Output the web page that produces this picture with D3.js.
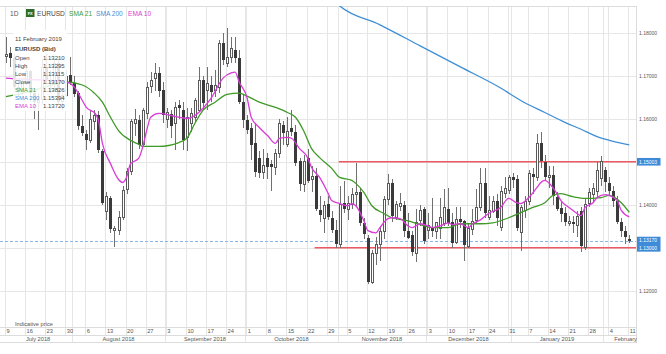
<!DOCTYPE html>
<html>
<head>
<meta charset="utf-8">
<script src="https://cdnjs.cloudflare.com/ajax/libs/d3/7.8.5/d3.min.js"></script>
<style>
  body { margin: 0; background: #fff; }
  svg { display: block; font-family: "Liberation Sans", Arial, sans-serif; }
</style>
</head>
<body>
<svg id="chart" width="666" height="354"></svg>
<script>
// Daily EURUSD candles, 9 Jul 2018 .. 11 Feb 2019 (one value per trading day)
var opens = [1.1745,1.1753,1.1742,1.1675,1.1665,1.1685,1.1712,1.1660,1.1640,1.1645,
  1.1720,1.1690,1.1685,1.1730,1.1640,1.1655,1.1702,1.1683,1.1660,1.1583,
  1.1565,1.1552,1.1595,1.1608,1.1525,1.1385,1.1415,1.1340,1.1342,1.1372,
  1.1435,1.1478,1.1590,1.1598,1.1540,1.1615,1.1675,1.1695,1.1707,1.1668,
  1.1598,1.1612,1.1590,1.1632,1.1620,1.1557,1.1590,1.1604,1.1620,1.1690,
  1.1667,1.1679,1.1667,1.1674,1.1777,1.1730,1.1744,1.1760,1.1742,1.1639,
  1.1597,1.1578,1.1543,1.1508,1.1475,1.1508,1.1495,1.1487,1.1520,1.1585,
  1.1543,1.1580,1.1569,1.1503,1.1450,1.1510,1.1461,1.1468,1.1387,1.1370,
  1.1403,1.1370,1.1342,1.1310,1.1405,1.1390,1.1403,1.1425,1.1430,1.1358,
  1.1323,1.1220,1.1288,1.1309,1.1340,1.1414,1.1452,1.1372,1.1398,1.1400,
  1.1340,1.1330,1.1288,1.1363,1.1390,1.1340,1.1345,1.1338,1.1347,1.1358,
  1.1390,1.1360,1.1315,1.1368,1.1362,1.1305,1.1345,1.1363,1.1394,1.1450,
  1.1370,1.1387,1.1410,1.1350,1.1428,1.1433,1.1464,1.1460,1.1335,1.1390,
  1.1410,1.1472,1.1465,1.1543,1.1500,1.1466,1.1470,1.1418,1.1393,1.1380,
  1.1358,1.1360,1.1352,1.1385,1.1303,1.1405,1.1425,1.1430,1.1464,1.1480,
  1.1452,1.1433,1.1410,1.1360,1.1340,1.13210];
var highs = [1.1790,1.1768,1.1750,1.1690,1.1690,1.1720,1.1715,1.1665,1.1660,1.1740,
  1.1750,1.1715,1.1740,1.1745,1.1660,1.1715,1.1744,1.1700,1.1665,1.1610,
  1.1575,1.1620,1.1620,1.1618,1.1530,1.1430,1.1420,1.1350,1.1385,1.1445,
  1.1485,1.1600,1.1623,1.1610,1.1625,1.1685,1.1710,1.1730,1.1720,1.1685,
  1.1625,1.1620,1.1640,1.1645,1.1640,1.1625,1.1625,1.1648,1.1720,1.1700,
  1.1721,1.1700,1.1714,1.1784,1.1800,1.1812,1.1790,1.1790,1.1760,1.1655,
  1.1610,1.1590,1.1590,1.1525,1.1530,1.1520,1.1505,1.1530,1.1600,1.1595,
  1.1604,1.1620,1.1585,1.1510,1.1515,1.1530,1.1490,1.1485,1.1420,1.1410,
  1.1420,1.1385,1.1365,1.1445,1.1455,1.1420,1.1440,1.1497,1.1440,1.1370,
  1.1330,1.1295,1.1325,1.1350,1.1420,1.1473,1.1460,1.1410,1.1428,1.1410,
  1.1380,1.1340,1.1390,1.1400,1.1395,1.1380,1.1415,1.1360,1.1417,1.1438,
  1.1440,1.1380,1.1395,1.1395,1.1365,1.1355,1.1390,1.1438,1.1486,1.1485,
  1.1420,1.1420,1.1425,1.1445,1.1465,1.1470,1.1475,1.1470,1.1400,1.1420,
  1.1480,1.1485,1.1566,1.1570,1.1515,1.1490,1.1490,1.1430,1.1410,1.1395,
  1.1375,1.1375,1.1385,1.1395,1.1417,1.1440,1.1450,1.1500,1.1514,1.1488,
  1.1465,1.1445,1.1420,1.1370,1.1350,1.13295];
var lows = [1.1730,1.1720,1.1670,1.1650,1.1655,1.1680,1.1640,1.1600,1.1575,1.1635,
  1.1680,1.1660,1.1665,1.1635,1.1620,1.1650,1.1679,1.1650,1.1575,1.1560,
  1.1527,1.1545,1.1575,1.1520,1.1400,1.1365,1.1335,1.1301,1.1330,1.1365,
  1.1425,1.1470,1.1560,1.1530,1.1535,1.1600,1.1660,1.1665,1.1650,1.1590,
  1.1580,1.1555,1.1527,1.1600,1.1527,1.1525,1.1570,1.1590,1.1615,1.1620,
  1.1620,1.1640,1.1650,1.1660,1.1725,1.1720,1.1730,1.1730,1.1635,1.1580,
  1.1565,1.1505,1.1465,1.1462,1.1460,1.1460,1.1433,1.1470,1.1510,1.1540,
  1.1535,1.1560,1.1490,1.1432,1.1430,1.1450,1.1430,1.1385,1.1360,1.1335,
  1.1365,1.1335,1.1300,1.1300,1.1380,1.1365,1.1390,1.1395,1.1350,1.1320,
  1.1215,1.1215,1.1260,1.1270,1.1320,1.1400,1.1360,1.1365,1.1385,1.1325,
  1.1320,1.1280,1.1266,1.1350,1.1310,1.1320,1.1325,1.1320,1.1320,1.1350,
  1.1350,1.1300,1.1310,1.1345,1.1269,1.1300,1.1330,1.1355,1.1385,1.1370,
  1.1365,1.1380,1.1350,1.1340,1.1415,1.1425,1.1440,1.1340,1.1293,1.1370,
  1.1400,1.1425,1.1455,1.1485,1.1455,1.1440,1.1400,1.1385,1.1360,1.1350,
  1.1350,1.1335,1.1325,1.1290,1.1295,1.1395,1.1405,1.1415,1.1445,1.1430,
  1.1420,1.1395,1.1355,1.1325,1.1310,1.13115];
var closes = [1.1750,1.1742,1.1675,1.1665,1.1685,1.1712,1.1660,1.1640,1.1645,1.1720,
  1.1690,1.1685,1.1730,1.1640,1.1655,1.1700,1.1683,1.1658,1.1583,1.1567,
  1.1552,1.1600,1.1610,1.1527,1.1405,1.1420,1.1342,1.1345,1.1372,1.1435,
  1.1478,1.1595,1.1600,1.1540,1.1620,1.1675,1.1690,1.1707,1.1665,1.1610,
  1.1615,1.1583,1.1627,1.1625,1.1550,1.1604,1.1613,1.1643,1.1690,1.1636,
  1.1683,1.1662,1.1679,1.1777,1.1737,1.1744,1.1765,1.1742,1.1639,1.1597,
  1.1573,1.1538,1.1475,1.1472,1.1492,1.1487,1.1487,1.1520,1.1590,1.1566,
  1.1573,1.1570,1.1496,1.1450,1.1503,1.1457,1.1468,1.1391,1.1375,1.1400,
  1.1372,1.1342,1.1310,1.1403,1.1390,1.1405,1.1426,1.1430,1.1358,1.1333,
  1.1220,1.1288,1.1309,1.1340,1.1414,1.1452,1.1375,1.1403,1.1405,1.1340,
  1.1323,1.1290,1.1360,1.1387,1.1316,1.1352,1.1337,1.1360,1.1372,1.1395,
  1.1358,1.1312,1.1368,1.1362,1.1305,1.1347,1.1363,1.1394,1.1450,1.1380,
  1.1387,1.1410,1.1370,1.1433,1.1440,1.1464,1.1456,1.1345,1.1394,1.1410,
  1.1475,1.1465,1.1543,1.1500,1.1466,1.1470,1.1420,1.1390,1.1378,1.1360,
  1.1362,1.1356,1.1374,1.1303,1.1403,1.1430,1.1440,1.1480,1.1503,1.1452,
  1.1433,1.1410,1.1360,1.1340,1.1325,1.13170];

// Indicators, read at a subset of trading days (index into the day list)
var sma21Days = [0,5,10,15,19,22,24,26,28,31,33,34,38,43,45,47,49,52,55,58,
  60,63,67,70,72,74,76,78,81,83,86,87,89,91,94,96,100,103,106,110,
  113,118,121,125,128,131,134,136,138,141,144,148,150,153,155];
var sma21Values = [1.1652,1.1662,1.1675,1.1686,1.1679,1.1660,1.1639,1.1604,1.1573,1.1550,
  1.1541,1.1536,1.1536,1.1545,1.1555,1.1590,1.1620,1.1639,1.1657,1.1660,
  1.1653,1.1639,1.1627,1.1615,1.1604,1.1573,1.1531,1.1510,1.1485,1.1464,
  1.1457,1.1450,1.1429,1.1398,1.1380,1.1370,1.1363,1.1354,1.1347,1.1347,
  1.1356,1.1356,1.1358,1.1370,1.1382,1.1394,1.1405,1.1422,1.1426,1.1419,
  1.1415,1.1417,1.1422,1.1405,1.13826];

var ema10Days = [0,5,10,15,17,19,20,21,22,23,24,26,28,29,30,31,33,34,35,36,
  38,41,43,45,47,49,51,54,56,57,58,60,61,63,65,67,68,70,71,73,
  75,76,78,80,81,83,85,86,87,89,90,92,93,95,96,98,100,101,103,105,
  106,108,110,111,113,115,116,118,120,123,125,127,128,130,132,133,134,136,137,138,
  140,142,143,144,146,147,149,150,152,153,155];
var ema10Values = [1.1695,1.1692,1.1690,1.1686,1.1674,1.1643,1.1627,1.1620,1.1615,1.1597,
  1.1543,1.1496,1.1459,1.1452,1.1464,1.1496,1.1508,1.1534,1.1573,1.1604,
  1.1613,1.1608,1.1604,1.1601,1.1608,1.1625,1.1648,1.1695,1.1707,1.1709,
  1.1686,1.1648,1.1604,1.1580,1.1562,1.1543,1.1555,1.1557,1.1555,1.1531,
  1.1510,1.1487,1.1464,1.1429,1.1410,1.1403,1.1398,1.1403,1.1398,1.1363,
  1.1340,1.1335,1.1347,1.1368,1.1370,1.1368,1.1351,1.1347,1.1356,1.1351,
  1.1347,1.1351,1.1358,1.1354,1.1356,1.1347,1.1356,1.1365,1.1380,1.1394,
  1.1415,1.1405,1.1403,1.1417,1.1440,1.1452,1.1457,1.1440,1.1426,1.1410,
  1.1394,1.1380,1.1375,1.1394,1.1405,1.1417,1.1424,1.1422,1.1410,1.1387,
  1.13720];

var sma200Days = [80,83,93,103,113,123,128,134,139,143,147,151,155];
var sma200Values = [1.1890,1.1863,1.1819,1.1770,1.1721,1.1672,1.1643,1.1615,1.1592,1.1576,1.1559,1.1548,1.15394];

// Horizontal support / resistance lines
var levelValues = [1.15003, 1.13000];
var levelStartDays = [83, 77];

// Axis labels
var priceTicks = [1.12, 1.13, 1.14, 1.15, 1.16, 1.17, 1.18];
var monthLabels = ['July 2018', 'August 2018', 'September 2018', 'October 2018',
  'November 2018', 'December 2018', 'January 2019', 'February'];

// Plot frame
var plot = {left: 0, top: 6, right: 636, bottom: 327};

var days = d3.timeDay.range(new Date(2018, 6, 9), new Date(2019, 1, 12))
  .filter(function(d) { return d.getDay() > 0 && d.getDay() < 6; });
var last = days.length - 1;

var candles = days.map(function(d, i) {
  return {i: i, date: d, o: opens[i], h: highs[i], l: lows[i], c: closes[i]};
});

// Scales
var xScale = d3.scaleLinear().domain([0, last]).range([5.9, 629.3]);
var yScale = d3.scaleLinear().domain([1.12, 1.18]).range([290.8, 33]);

var svg = d3.select('#chart');
var fmt = d3.format('.5f');
var gridColor = '#e6e6e6';
var colSma21 = '#3f9a27', colSma200 = '#3f8fd6', colEma10 = '#d83cd8';

svg.append('rect').attr('width', 666).attr('height', 354).attr('fill', '#fff');

svg.append('defs').append('clipPath').attr('id', 'plotClip')
  .append('rect')
  .attr('x', plot.left).attr('y', plot.top)
  .attr('width', plot.right - plot.left).attr('height', plot.bottom - plot.top);

// Grid
var grid = svg.append('g').attr('shape-rendering', 'crispEdges');

grid.selectAll('.hgrid')
  .data(priceTicks)
  .enter().append('line')
  .attr('x1', plot.left).attr('x2', plot.right)
  .attr('y1', function(d) { return Math.round(yScale(d)) + 0.5; })
  .attr('y2', function(d) { return Math.round(yScale(d)) + 0.5; })
  .attr('stroke', gridColor);

var mondays = candles.filter(function(d) { return d.date.getDay() === 1; });
var monthStarts = candles.filter(function(d, i) {
  return i > 0 && d.date.getMonth() !== days[i - 1].getMonth();
});

grid.selectAll('.vgrid')
  .data(mondays)
  .enter().append('line')
  .attr('x1', function(d) { return Math.round(xScale(d.i) - 1) + 0.5; })
  .attr('x2', function(d) { return Math.round(xScale(d.i) - 1) + 0.5; })
  .attr('y1', plot.top).attr('y2', 335)
  .attr('stroke', gridColor);

grid.selectAll('.mgrid')
  .data(monthStarts)
  .enter().append('line')
  .attr('x1', function(d) { return Math.round(xScale(d.i) - 2) + 0.5; })
  .attr('x2', function(d) { return Math.round(xScale(d.i) - 2) + 0.5; })
  .attr('y1', plot.top).attr('y2', 342)
  .attr('stroke', gridColor);

// Frame lines
[[plot.left, plot.top + 0.5, plot.right, plot.top + 0.5],
 [plot.left, plot.bottom + 0.5, plot.right, plot.bottom + 0.5],
 [plot.left, 335.5, plot.right, 335.5],
 [plot.left, 342.5, plot.right, 342.5],
 [plot.right + 0.5, plot.top, plot.right + 0.5, 342.5]].forEach(function(l) {
  grid.append('line')
    .attr('x1', l[0]).attr('y1', l[1]).attr('x2', l[2]).attr('y2', l[3])
    .attr('stroke', '#dcdcdc');
});

var chart = svg.append('g').attr('clip-path', 'url(#plotClip)');

// Support / resistance levels
chart.selectAll('.level')
  .data(levelValues)
  .enter().append('line')
  .attr('x1', function(d, i) { return xScale(levelStartDays[i]) - 1; })
  .attr('x2', plot.right)
  .attr('y1', function(d) { return yScale(d); })
  .attr('y2', function(d) { return yScale(d); })
  .attr('stroke', '#ea5a62')
  .attr('stroke-width', 1.5);

// Current price dashed line
chart.append('line')
  .attr('x1', plot.left).attr('x2', plot.right)
  .attr('y1', Math.round(yScale(closes[last])) + 0.5)
  .attr('y2', Math.round(yScale(closes[last])) + 0.5)
  .attr('stroke', '#8ab6e6')
  .attr('stroke-dasharray', '3,2')
  .attr('shape-rendering', 'crispEdges');

// Candles
var candleG = chart.append('g').attr('shape-rendering', 'crispEdges');

candleG.selectAll('.wick')
  .data(candles)
  .enter().append('line')
  .attr('x1', function(d) { return Math.round(xScale(d.i)) + 0.5; })
  .attr('x2', function(d) { return Math.round(xScale(d.i)) + 0.5; })
  .attr('y1', function(d) { return yScale(d.h); })
  .attr('y2', function(d) { return yScale(d.l); })
  .attr('stroke', '#707070');

candleG.selectAll('.body')
  .data(candles)
  .enter().append('rect')
  .each(function(d) {
    var top = yScale(Math.max(d.o, d.c)), bot = yScale(Math.min(d.o, d.c));
    var cx = Math.round(xScale(d.i));
    var r = d3.select(this);
    if (d.c >= d.o) {
      r.attr('x', cx - 0.5).attr('width', 2)
        .attr('y', Math.round(top) + 0.5).attr('height', Math.max(1, Math.round(bot - top)))
        .attr('fill', '#fff').attr('stroke', '#5a5a5a');
    } else {
      r.attr('x', cx - 1).attr('width', 3)
        .attr('y', Math.round(top)).attr('height', Math.max(1, Math.round(bot - top)))
        .attr('fill', '#3a3a3a');
    }
  });

// Indicator lines
var line = d3.line().curve(d3.curveMonotoneX)
  .x(function(d) { return xScale(d[0]); })
  .y(function(d) { return yScale(d[1]); });

function pairs(daysArr, vals) {
  return daysArr.map(function(d, i) { return [d, vals[i]]; });
}

[[sma200Days, sma200Values, colSma200],
 [sma21Days, sma21Values, colSma21],
 [ema10Days, ema10Values, colEma10]].forEach(function(s) {
  chart.append('path')
    .attr('d', line(pairs(s[0], s[1])))
    .attr('fill', 'none')
    .attr('stroke', s[2])
    .attr('stroke-width', 1.3);
});

// Info box (semi transparent)
svg.append('rect')
  .attr('x', 13).attr('y', 30).attr('width', 54).attr('height', 81)
  .attr('fill', '#fff').attr('opacity', 0.86);

var info = svg.append('g').attr('font-size', '6px').attr('fill', '#444');
info.append('text').attr('x', 15).attr('y', 41)
  .text(d3.timeFormat('%-d %B %Y')(days[last]));
info.append('text').attr('x', 15).attr('y', 51).attr('font-weight', 'bold')
  .text('EURUSD (Bid)');

var rows = [
  ['Open', candles[last].o, '#444'],
  ['High', candles[last].h, '#444'],
  ['Low', candles[last].l, '#444'],
  ['Close', candles[last].c, '#444'],
  ['SMA 21', sma21Values[sma21Values.length - 1], colSma21],
  ['SMA 200', sma200Values[sma200Values.length - 1], colSma200],
  ['EMA 10', ema10Values[ema10Values.length - 1], colEma10]
];
rows.forEach(function(r, i) {
  info.append('text').attr('x', 15).attr('y', 60 + i * 8).attr('fill', r[2]).text(r[0]);
  info.append('text').attr('x', 43).attr('y', 60 + i * 8).text(fmt(r[1]));
});

// Header
var header = svg.append('g').attr('font-size', '6.6px');
header.append('text').attr('x', 10).attr('y', 15.5).attr('fill', '#555').text('1D');
header.append('rect').attr('x', 26).attr('y', 9).attr('width', 8.5).attr('height', 8)
  .attr('fill', '#2f6b2a');
header.append('text').attr('x', 30.2).attr('y', 14.8).attr('fill', '#fff')
  .attr('font-size', '4px').attr('font-weight', 'bold').attr('text-anchor', 'middle').text('FX');
header.append('text').attr('x', 37).attr('y', 15.5).attr('fill', '#444').text('EURUSD');
header.append('text').attr('x', 69).attr('y', 15.5).attr('fill', colSma21).text('SMA 21');
header.append('text').attr('x', 96).attr('y', 15.5).attr('fill', colSma200).text('SMA 200');
header.append('text').attr('x', 128).attr('y', 15.5).attr('fill', colEma10).text('EMA 10');

// Right price axis
var yAxisG = svg.append('g').attr('font-size', '5px').attr('fill', '#555');
yAxisG.selectAll('text')
  .data(priceTicks)
  .enter().append('text')
  .attr('x', 639)
  .attr('y', function(d) { return yScale(d) + 1.8; })
  .text(function(d) { return fmt(d); });

var tags = [levelValues[0], closes[last], levelValues[1]];
var tagG = svg.append('g');
tags.forEach(function(v) {
  var y = yScale(v);
  tagG.append('rect').attr('x', 637).attr('y', y - 3.8).attr('width', 23.5).attr('height', 7.6)
    .attr('fill', '#3d8ad8');
  tagG.append('text').attr('x', 639).attr('y', y + 1.8).attr('font-size', '5px')
    .attr('fill', '#fff').text(fmt(v));
});

// Bottom time axis
var xAxisG = svg.append('g').attr('font-size', '5.7px').attr('fill', '#555');
xAxisG.append('text').attr('x', 15).attr('y', 325.5).text('Indicative price');

xAxisG.selectAll('.day')
  .data(mondays)
  .enter().append('text')
  .attr('x', function(d) { return xScale(d.i) + 0.5; })
  .attr('y', 332.8)
  .text(function(d) { return d3.timeFormat('%-d')(d.date); });

var bounds = [xScale(0) - 2].concat(monthStarts.map(function(d) { return xScale(d.i) - 2; }), [plot.right + 12]);
xAxisG.selectAll('.month')
  .data(monthLabels)
  .enter().append('text')
  .attr('x', function(d, i) { return (bounds[i] + bounds[i + 1]) / 2; })
  .attr('y', 340.6)
  .attr('text-anchor', 'middle')
  .text(function(d) { return d; });
</script>
</body>
</html>
